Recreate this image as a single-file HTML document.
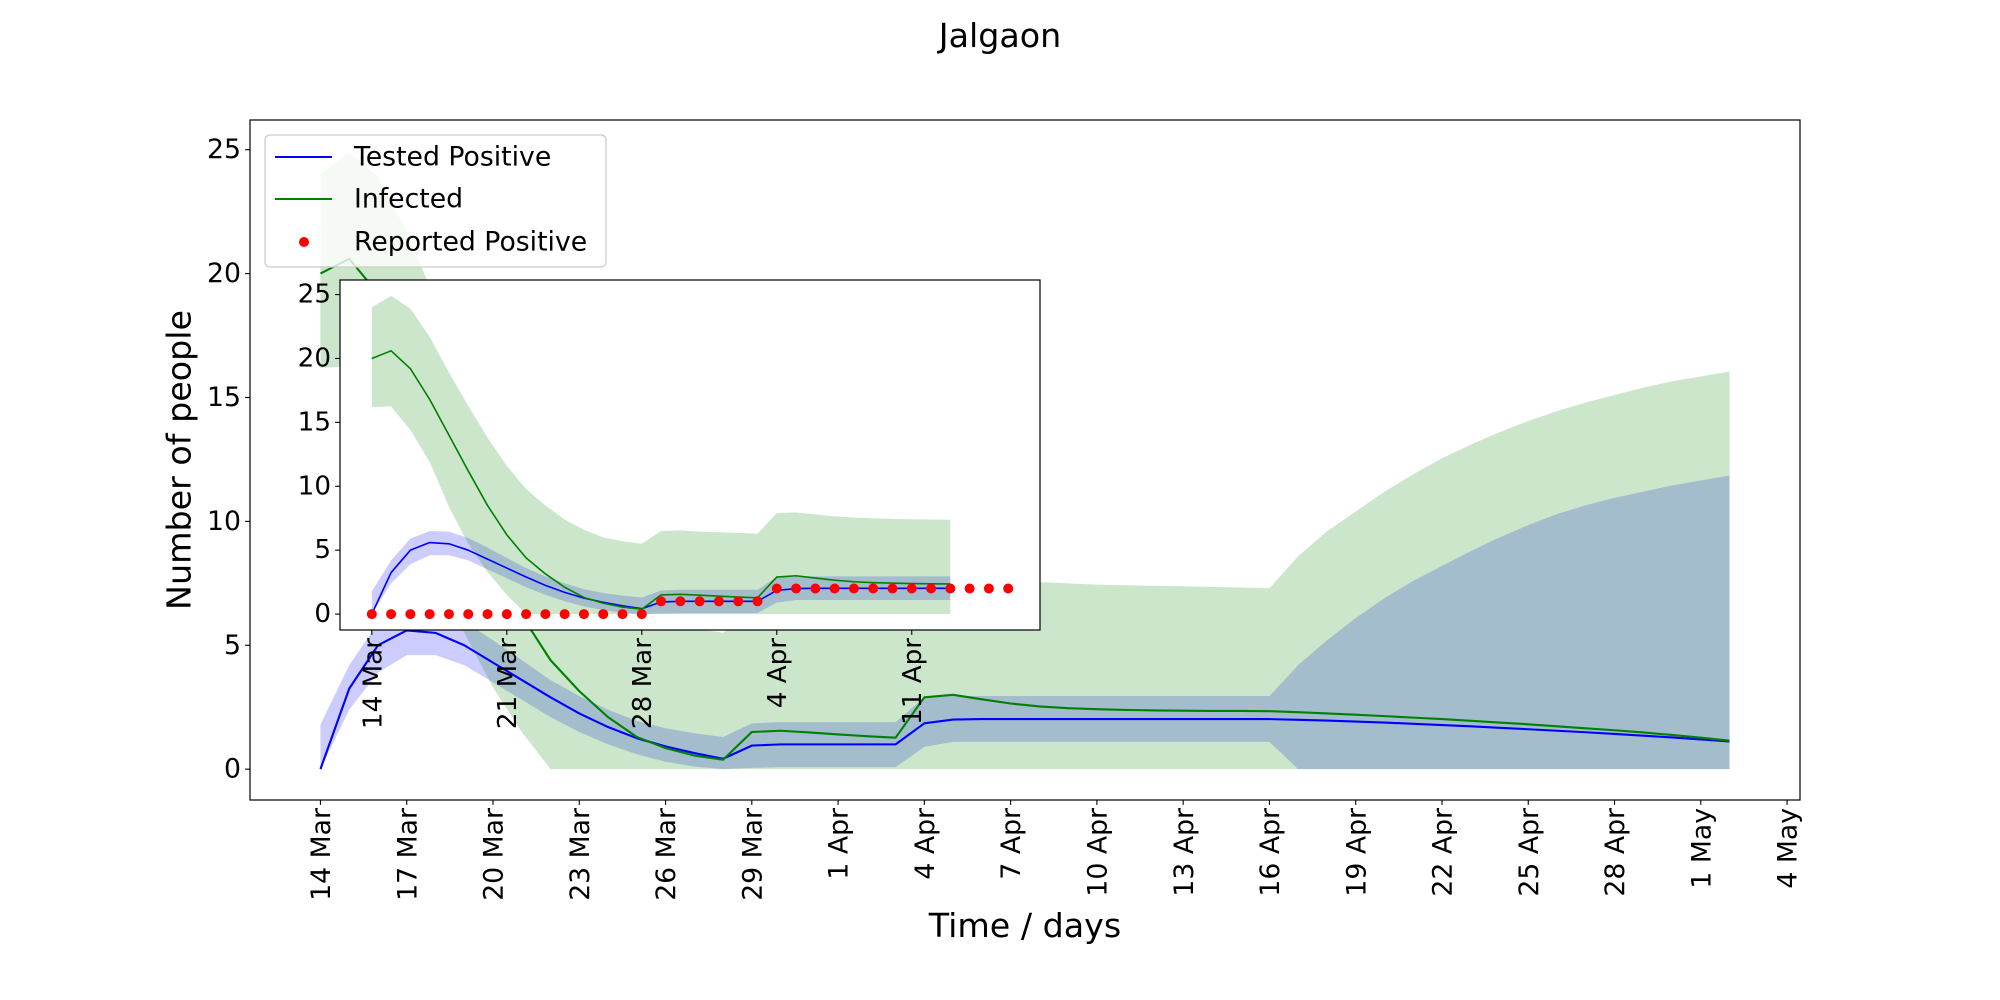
<!DOCTYPE html>
<html>
<head>
<meta charset="utf-8">
<style>
  html,body{margin:0;padding:0;background:#fff;}
  svg{display:block;font-family:"DejaVu Sans","Liberation Sans",sans-serif;}
</style>
</head>
<body>
<svg id="chart" width="2000" height="1000" viewBox="0 0 2000 1000" xmlns="http://www.w3.org/2000/svg">
  <rect x="0" y="0" width="2000" height="1000" fill="#fff"/>
  <text x="1000" y="47" font-size="33.3" text-anchor="middle" fill="#000">Jalgaon</text>
  <g id="main"></g>
  <g id="inset"></g>
  <g id="legend">
    <rect x="265" y="135" width="341" height="132" rx="5" fill="#fff" fill-opacity="0.8" stroke="#cccccc" stroke-width="1.3"/>
    <line x1="275" y1="157" x2="332" y2="157" stroke="#0000ff" stroke-width="2"/>
    <text x="354" y="157" font-size="26.7" dominant-baseline="central">Tested Positive</text>
    <line x1="275" y1="199" x2="332" y2="199" stroke="#008000" stroke-width="2"/>
    <text x="354" y="199" font-size="26.7" dominant-baseline="central">Infected</text>
    <circle cx="304" cy="242" r="5" fill="#ff0000"/>
    <text x="354" y="242" font-size="26.7" dominant-baseline="central">Reported Positive</text>
  </g>
  <text x="1025" y="937" font-size="33.3" text-anchor="middle">Time / days</text>
  <text transform="translate(179,460) rotate(-90)" font-size="33.3" text-anchor="middle" dominant-baseline="central">Number of people</text>
</svg>
<script>
// ---- data (day index 0 = 14 Mar) ----
const tested = [0,3.25,5.0,5.6,5.5,5.0,4.3,3.6,2.9,2.25,1.7,1.25,0.92,0.65,0.42,0.95,1.0,1.0,1.0,1.0,1.0,1.85,2.0,2.02,2.02,2.02,2.02,2.02,2.02,2.02,2.02,2.02,2.02,2.02,1.99,1.96,1.92,1.88,1.83,1.78,1.73,1.67,1.61,1.55,1.49,1.42,1.35,1.28,1.2,1.12];
const testedUpper = [1.8,4.2,5.9,6.5,6.45,5.95,5.2,4.4,3.6,2.95,2.4,1.95,1.65,1.45,1.3,1.85,1.9,1.9,1.9,1.9,1.9,2.9,2.95,2.95,2.95,2.95,2.95,2.95,2.95,2.95,2.95,2.95,2.95,2.95,4.2,5.2,6.1,6.9,7.6,8.2,8.8,9.35,9.85,10.3,10.65,10.95,11.2,11.45,11.65,11.85];
const testedLower = [0,2.4,3.9,4.6,4.6,4.2,3.5,2.8,2.1,1.5,1.0,0.6,0.3,0.1,0,0.05,0.08,0.08,0.08,0.08,0.08,0.9,1.1,1.1,1.1,1.1,1.1,1.1,1.1,1.1,1.1,1.1,1.1,1.1,0,0,0,0,0,0,0,0,0,0,0,0,0,0,0,0];
const infected = [20.0,20.6,19.2,16.8,14.0,11.2,8.5,6.2,4.4,3.15,2.1,1.3,0.85,0.55,0.38,1.5,1.55,1.48,1.4,1.33,1.27,2.9,3.0,2.82,2.65,2.53,2.46,2.42,2.39,2.37,2.36,2.35,2.35,2.34,2.3,2.25,2.2,2.14,2.08,2.02,1.95,1.88,1.81,1.73,1.65,1.57,1.48,1.38,1.27,1.15];
const infectedUpper = [24.0,24.9,23.9,21.7,18.9,16.3,13.8,11.6,9.8,8.5,7.4,6.6,6.0,5.7,5.5,6.5,6.55,6.45,6.4,6.35,6.3,7.9,7.95,7.8,7.65,7.55,7.5,7.45,7.42,7.4,7.38,7.35,7.33,7.3,8.6,9.6,10.4,11.2,11.9,12.55,13.1,13.6,14.05,14.45,14.8,15.1,15.4,15.65,15.85,16.05];
const infectedLower = [16.2,16.25,14.4,11.9,8.4,5.5,3.3,1.5,0,0,0,0,0,0,0,0,0,0,0,0,0,0,0,0,0,0,0,0,0,0,0,0,0,0,0,0,0,0,0,0,0,0,0,0,0,0,0,0,0,0];
const reported = [0,0,0,0,0,0,0,0,0,0,0,0,0,0,0,1,1,1,1,1,1,2,2,2,2,2,2,2,2,2,2,2,2,2];
const yTicks = [0,5,10,15,20,25];
const mainXTickDays = [0,3,6,9,12,15,18,21,24,27,30,33,36,39,42,45,48,51];
const mainXTickLabels = ["14 Mar","17 Mar","20 Mar","23 Mar","26 Mar","29 Mar","1 Apr","4 Apr","7 Apr","10 Apr","13 Apr","16 Apr","19 Apr","22 Apr","25 Apr","28 Apr","1 May","4 May"];
const insetXTickDays = [0,7,14,21,28];
const insetXTickLabels = ["14 Mar","21 Mar","28 Mar","4 Apr","11 Apr"];
const insetLastDay = 30;

const NS = "http://www.w3.org/2000/svg";
function mk(tag, attrs, parent){
  const e = document.createElementNS(NS, tag);
  for (const k in attrs) e.setAttribute(k, attrs[k]);
  parent.appendChild(e);
  return e;
}
function makeAxes(box, xmin, xmax, ymin, ymax){
  return {
    x: d => box.l + (d - xmin) / (xmax - xmin) * (box.r - box.l),
    y: v => box.b - (v - ymin) / (ymax - ymin) * (box.b - box.t)
  };
}
function linePath(ax, arr, n){
  let s = "";
  for (let i = 0; i < n; i++) s += (i ? "L" : "M") + ax.x(i).toFixed(2) + "," + ax.y(arr[i]).toFixed(2);
  return s;
}
function bandPath(ax, up, lo, n){
  let s = "";
  for (let i = 0; i < n; i++) s += (i ? "L" : "M") + ax.x(i).toFixed(2) + "," + ax.y(up[i]).toFixed(2);
  for (let i = n - 1; i >= 0; i--) s += "L" + ax.x(i).toFixed(2) + "," + ax.y(lo[i]).toFixed(2);
  return s + "Z";
}

function drawPanel(g, box, ax, n, tickDays, tickLabels, fs, lw, showDots){
  mk("rect", {x: box.l, y: box.t, width: box.r - box.l, height: box.b - box.t, fill: "#fff"}, g);
  const clipId = "clip" + Math.round(box.l);
  const cp = mk("clipPath", {id: clipId}, g);
  mk("rect", {x: box.l, y: box.t, width: box.r - box.l, height: box.b - box.t}, cp);
  const plot = mk("g", {"clip-path": "url(#" + clipId + ")"}, g);
  const bb = mk("path", {d: bandPath(ax, testedUpper, testedLower, n), fill: "#0000ff", "fill-opacity": 0.2}, plot);
  
  
  const gb = mk("path", {d: bandPath(ax, infectedUpper, infectedLower, n), fill: "#008000", "fill-opacity": 0.2}, plot);
  
  
  const bl = mk("path", {d: linePath(ax, tested, n), fill: "none", stroke: "#0000ff", "stroke-width": lw, "stroke-linejoin": "round"}, plot);
  
  
  const gl = mk("path", {d: linePath(ax, infected, n), fill: "none", stroke: "#008000", "stroke-width": lw, "stroke-linejoin": "round"}, plot);
  
  
  if (showDots){
    for (let i = 0; i < reported.length; i++){
      const c = mk("circle", {cx: ax.x(i), cy: ax.y(reported[i]), r: 5, fill: "#ff0000"}, plot);
      
      
    }
  }
  mk("rect", {x: box.l, y: box.t, width: box.r - box.l, height: box.b - box.t, fill: "none", stroke: "#000", "stroke-width": 1.2}, g);
  yTicks.forEach(v => {
    const y = ax.y(v);
    mk("line", {x1: box.l - 4.9, y1: y, x2: box.l, y2: y, stroke: "#000", "stroke-width": 1.1}, g);
    const t = mk("text", {x: box.l - 9, y: y, "font-size": fs, "text-anchor": "end", "dominant-baseline": "central"}, g);
    t.textContent = v;
    
    
  });
  tickDays.forEach((d, i) => {
    const x = ax.x(d);
    mk("line", {x1: x, y1: box.b, x2: x, y2: box.b + 4.9, stroke: "#000", "stroke-width": 1.1}, g);
    const t = mk("text", {transform: "translate(" + x + "," + (box.b + 8) + ") rotate(-90)", "font-size": fs, "text-anchor": "end", dy: "0.36em"}, g);
    t.textContent = tickLabels[i];
    
    
  });
}

const mainBox = {l: 250, r: 1800, t: 120, b: 800};
const mainAx = makeAxes(mainBox, -2.45, 51.45, -1.245, 26.2);
drawPanel(document.getElementById("main"), mainBox, mainAx, tested.length, mainXTickDays, mainXTickLabels, 26.7, 2.1, false);

const insetBox = {l: 340, r: 1040, t: 280, b: 630};
const insetAx = makeAxes(insetBox, -1.65, 34.65, -1.245, 26.14);
drawPanel(document.getElementById("inset"), insetBox, insetAx, insetLastDay + 1, insetXTickDays, insetXTickLabels, 26.2, 1.6, true);
</script>
</body>
</html>
